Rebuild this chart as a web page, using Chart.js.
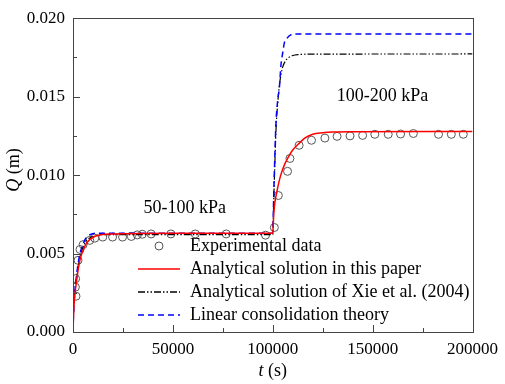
<!DOCTYPE html>
<html>
<head>
<meta charset="utf-8">
<script src="https://cdn.jsdelivr.net/npm/chart.js@4/dist/chart.umd.min.js"></script>
<style>
  html, body { margin: 0; padding: 0; background: #fff; }
  #wrap { width: 505px; height: 384px; }
</style>
</head>
<body>
<div id="wrap"><canvas id="chart" width="505" height="384"></canvas></div>
<script>
// ====== DATA ======
const expT = [1500, 1200, 1300, 2500, 3500, 5100, 8400, 10900, 14900, 19800, 24800, 29200, 32200, 34700, 39100, 49000, 61200, 76700, 96400,
  100800, 102800, 107400, 108600, 113200, 119400, 126100, 132200, 138700, 145000, 151100, 157800, 164000, 170400, 183000, 189400, 195400];
const expQ = [0.00228, 0.00286, 0.0034, 0.00457, 0.00526, 0.00557, 0.00584, 0.00598, 0.00605, 0.00605, 0.00605, 0.00609, 0.00619, 0.00623, 0.00625, 0.00625, 0.00625, 0.00625, 0.00617,
  0.00666, 0.0087, 0.01024, 0.01106, 0.0119, 0.01222, 0.01236, 0.01247, 0.0125, 0.01253, 0.0126, 0.0126, 0.01262, 0.01265, 0.0126, 0.0126, 0.0126];

const paperT = [0, 300, 800, 1500, 2500, 3500, 5000, 6500, 8500, 11000, 14000, 20000, 50000, 99900,
  100000, 100500, 101000, 102000, 103000, 104000, 106000, 108000, 110000, 113000, 116000, 120000, 125000, 130000, 140000, 200000];
const paperQ = [0, 0.0012, 0.0022, 0.003, 0.0039, 0.0046, 0.0052, 0.0056, 0.0059, 0.0061, 0.0062, 0.00625, 0.0063, 0.0063,
  0.0063, 0.0075, 0.0082, 0.0089, 0.0095, 0.0100, 0.0107, 0.0112, 0.0116, 0.0120, 0.01235, 0.0126, 0.0127, 0.01275, 0.01277, 0.01278];

const xieT = [0, 300, 800, 1500, 2500, 3500, 5000, 6500, 8500, 11000, 14000, 20000, 50000, 99900,
  100000, 100500, 101000, 101600, 102500, 103300, 104100, 105000, 106500, 108000, 110000, 113000, 120000, 200000];
const xieQ = [0, 0.0013, 0.0024, 0.0032, 0.0041, 0.0048, 0.0054, 0.0058, 0.006, 0.0061, 0.0062, 0.0062, 0.0062, 0.0062,
  0.0062, 0.0085, 0.0105, 0.0128, 0.0146, 0.0157, 0.0164, 0.0169, 0.0173, 0.0175, 0.01762, 0.01768, 0.01771, 0.01772];

const linearT = [0, 300, 800, 1500, 2500, 3500, 5000, 6500, 8500, 11000, 14000, 20000, 50000, 99900,
  100000, 100500, 101000, 101600, 102500, 103300, 104100, 105000, 105800, 107000, 109000, 111000, 113900, 200000];
const linearQ = [0, 0.0013, 0.0024, 0.0033, 0.0043, 0.005, 0.0056, 0.006, 0.0062, 0.0063, 0.0063, 0.0063, 0.0063, 0.0063,
  0.0063, 0.0088, 0.011, 0.0133, 0.0148, 0.01555, 0.0170, 0.0178, 0.01843, 0.0187, 0.01894, 0.01899, 0.0190, 0.0190];

const xTicks = [0, 50000, 100000, 150000, 200000];
const yTicks = [0, 0.005, 0.010, 0.015, 0.020];
const legendLabels = ["Experimental data", "Analytical solution in this paper", "Analytical solution of Xie et al. (2004)", "Linear consolidation theory"];

// ====== HELPERS ======
const toPoints = (xs, ys) => xs.map((x, i) => ({ x, y: ys[i] }));
const SERIF = "'Liberation Serif', 'DejaVu Serif', serif";
const AXIS_COLOR = "#444";

// ====== FRAME, TICKS, TITLES, LEGEND ======
const decorPlugin = {
  id: "decor",
  afterDraw(chart) {
    const { ctx, chartArea: a, scales } = chart;
    const xs = scales.x, ys = scales.y;
    ctx.save();
    ctx.strokeStyle = AXIS_COLOR;
    ctx.lineWidth = 1;
    ctx.strokeRect(Math.round(a.left) + 0.5, Math.round(a.top) + 0.5, Math.round(a.right - a.left), Math.round(a.bottom - a.top));

    // inward ticks, major + minor
    ctx.beginPath();
    for (let v = 0; v <= 200000; v += 25000) {
      const px = Math.round(xs.getPixelForValue(v)) + 0.5;
      const len = v % 50000 === 0 ? 7 : 4;
      ctx.moveTo(px, a.bottom);
      ctx.lineTo(px, a.bottom - len);
    }
    for (let i = 0; i <= 8; i++) {
      const v = i * 0.0025;
      const py = Math.round(ys.getPixelForValue(v)) + 0.5;
      const len = i % 2 === 0 ? 7 : 4;
      ctx.moveTo(a.left, py);
      ctx.lineTo(a.left + len, py);
    }
    ctx.stroke();

    // axis titles
    ctx.fillStyle = "#000";
    ctx.textBaseline = "middle";
    ctx.font = "italic 18px " + SERIF;
    const tW = ctx.measureText("t").width;
    ctx.font = "18px " + SERIF;
    const sW = ctx.measureText(" (s)").width;
    let x0 = (a.left + a.right) / 2 - (tW + sW) / 2;
    ctx.textAlign = "left";
    ctx.font = "italic 18px " + SERIF;
    ctx.fillText("t", x0, 371);
    ctx.font = "18px " + SERIF;
    ctx.fillText(" (s)", x0 + tW, 371);

    ctx.save();
    ctx.translate(14, 170);
    ctx.rotate(-Math.PI / 2);
    ctx.font = "italic 18px " + SERIF;
    const qW = ctx.measureText("Q").width;
    ctx.font = "18px " + SERIF;
    const mW = ctx.measureText(" (m)").width;
    x0 = -(qW + mW) / 2;
    ctx.font = "italic 18px " + SERIF;
    ctx.fillText("Q", x0, 0);
    ctx.font = "18px " + SERIF;
    ctx.fillText(" (m)", x0 + qW, 0);
    ctx.restore();

    // stage annotations
    ctx.font = "18px " + SERIF;
    ctx.textAlign = "center";
    ctx.fillText("50-100 kPa", xs.getPixelForValue(56000), 208);
    ctx.fillText("100-200 kPa", xs.getPixelForValue(155000), 96);

    // legend
    const lx0 = 138, lx1 = 180, tx = 190, rows = [246, 269, 292, 315];
    ctx.textAlign = "left";
    legendLabels.forEach((lab, i) => ctx.fillText(lab, tx, rows[i]));
    ctx.beginPath();
    ctx.strokeStyle = "#555";
    ctx.arc((lx0 + lx1) / 2, rows[0], 4, 0, Math.PI * 2);
    ctx.stroke();
    const styles = [
      { c: "#ff0000", d: [] },
      { c: "#000", d: [7, 2, 1.5, 2, 1.5, 2] },
      { c: "#0000ff", d: [6, 4] }
    ];
    styles.forEach((s, i) => {
      ctx.beginPath();
      ctx.strokeStyle = s.c;
      ctx.lineWidth = 1.5;
      ctx.setLineDash(s.d);
      ctx.moveTo(lx0, rows[i + 1]);
      ctx.lineTo(lx1, rows[i + 1]);
      ctx.stroke();
    });
    ctx.restore();
  }
};

// ====== CHART ======
new Chart(document.getElementById("chart"), {
  type: "scatter",
  data: {
    datasets: [
      {
        label: "Analytical solution in this paper",
        data: toPoints(paperT, paperQ),
        showLine: true, pointRadius: 0, borderColor: "#ff0000", borderWidth: 1.5,
        cubicInterpolationMode: "monotone"
      },
      {
        label: "Linear consolidation theory",
        data: toPoints(linearT, linearQ),
        showLine: true, pointRadius: 0, borderColor: "#0000ff", borderWidth: 1.5,
        borderDash: [6, 4], cubicInterpolationMode: "monotone"
      },
      {
        label: "Analytical solution of Xie et al. (2004)",
        data: toPoints(xieT, xieQ),
        showLine: true, pointRadius: 0, borderColor: "#000", borderWidth: 1.2,
        borderDash: [7, 2, 1.5, 2, 1.5, 2], cubicInterpolationMode: "monotone"
      },
      {
        label: "Experimental data",
        data: toPoints(expT, expQ),
        showLine: false, pointRadius: 4, pointBackgroundColor: "rgba(0,0,0,0)",
        pointBorderColor: "#555", pointBorderWidth: 1
      }
    ]
  },
  options: {
    responsive: false,
    animation: false,
    devicePixelRatio: 1,
    layout: { padding: { top: 8, right: 28, left: 0, bottom: 0 } },
    plugins: { legend: { display: false }, tooltip: { enabled: false } },
    scales: {
      x: {
        type: "linear", min: 0, max: 200000,
        afterFit: s => { s.height = 52; },
        afterBuildTicks: s => { s.ticks = xTicks.map(v => ({ value: v })); },
        grid: { display: false, drawTicks: false },
        border: { display: false },
        ticks: { padding: 7, color: "#000", font: { family: SERIF, size: 17 }, maxRotation: 0, callback: v => String(v) }
      },
      y: {
        type: "linear", min: 0, max: 0.02,
        afterFit: s => { s.width = 73; },
        afterBuildTicks: s => { s.ticks = yTicks.map(v => ({ value: v })); },
        grid: { display: false, drawTicks: false },
        border: { display: false },
        ticks: { padding: 8, color: "#000", font: { family: SERIF, size: 17 }, callback: v => v.toFixed(3) }
      }
    }
  },
  plugins: [decorPlugin]
});
</script>
</body>
</html>
